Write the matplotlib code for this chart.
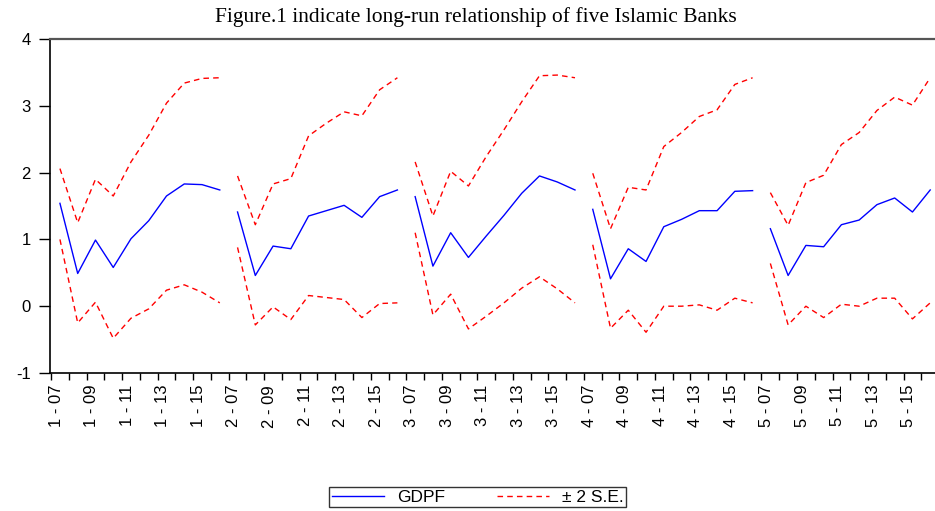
import matplotlib
matplotlib.use("Agg")
import matplotlib.pyplot as plt

banks = [1, 2, 3, 4, 5]
years = [7, 8, 9, 10, 11, 12, 13, 14, 15, 16]

# GDPF forecast per bank
gdpf = [
    [1.54, 0.49, 0.99, 0.58, 1.01, 1.28, 1.65, 1.83, 1.82, 1.74],
    [1.41, 0.46, 0.90, 0.86, 1.35, 1.43, 1.51, 1.33, 1.64, 1.74],
    [1.64, 0.60, 1.10, 0.73, 1.05, 1.36, 1.69, 1.95, 1.86, 1.74],
    [1.45, 0.41, 0.86, 0.67, 1.19, 1.30, 1.43, 1.43, 1.72, 1.73],
    [1.16, 0.46, 0.91, 0.89, 1.22, 1.29, 1.52, 1.62, 1.41, 1.74],
]
# +2 S.E. band
upper = [
    [2.06, 1.25, 1.90, 1.65, 2.16, 2.56, 3.04, 3.34, 3.41, 3.42],
    [1.95, 1.22, 1.83, 1.91, 2.55, 2.74, 2.91, 2.85, 3.24, 3.42],
    [2.16, 1.35, 2.02, 1.80, 2.24, 2.64, 3.06, 3.45, 3.46, 3.42],
    [1.99, 1.16, 1.78, 1.74, 2.39, 2.60, 2.84, 2.94, 3.32, 3.42],
    [1.70, 1.21, 1.85, 1.96, 2.42, 2.60, 2.93, 3.13, 3.01, 3.42],
]
# -2 S.E. band
lower = [
    [1.00, -0.25, 0.06, -0.48, -0.18, -0.04, 0.24, 0.32, 0.21, 0.05],
    [0.88, -0.28, -0.01, -0.20, 0.16, 0.13, 0.10, -0.17, 0.04, 0.05],
    [1.10, -0.13, 0.18, -0.34, -0.15, 0.05, 0.27, 0.44, 0.26, 0.05],
    [0.92, -0.33, -0.06, -0.39, 0.00, 0.00, 0.02, -0.06, 0.12, 0.05],
    [0.64, -0.28, 0.00, -0.17, 0.03, 0.00, 0.12, 0.12, -0.19, 0.05],
]

labels = [f"{b} - {y:02d}" for b in banks for y in years]
n = len(labels)

fig = plt.figure(figsize=(9.35, 5.11), dpi=100)
ax = fig.add_axes([50 / 935, 1 - 373 / 511, 1 - 50 / 935, (373 - 39) / 511])

blue = "#0000ff"
red = "#ff0000"
for i in range(len(banks)):
    x = list(range(i * len(years), (i + 1) * len(years)))
    ax.plot(x, gdpf[i], color=blue, lw=1.0, label="GDPF" if i == 0 else None)
    ax.plot(x, upper[i], color=red, lw=1.0, ls=(0, (4, 3)),
            label="± 2 S.E." if i == 0 else None)
    ax.plot(x, lower[i], color=red, lw=1.0, ls=(0, (4, 3)))

ax.set_xlim(-0.56, 49.27)
ax.set_ylim(-1, 4)
ax.set_yticks([-1, 0, 1, 2, 3, 4])
ax.set_yticklabels(["-1", "0", "1", "2", "3", "4"], family="Liberation Sans", fontsize=12)
ax.tick_params(axis="y", direction="out", length=8, width=1, pad=6)

# labels sit a bit left of the observation, as in EViews
ax.set_xticks([k - 0.2 for k in range(0, n, 2)])
ax.set_xticklabels(labels[::2], rotation=90, family="Liberation Sans", fontsize=12)
ax.set_xticks([k - 0.5 for k in range(n)], minor=True)
ax.tick_params(axis="x", which="major", length=0, pad=8.5)
ax.tick_params(axis="x", which="minor", direction="out", length=5, width=1)

ax.spines["right"].set_visible(False)
ax.spines["top"].set_color("#555555")
ax.spines["top"].set_linewidth(1.6)
ax.spines["left"].set_linewidth(1.2)
ax.spines["bottom"].set_linewidth(1.2)

fig.text(476 / 935, 1 - 22 / 511,
         "Figure.1 indicate long-run relationship of five Islamic Banks",
         ha="center", va="baseline", family="Liberation Serif", fontsize=15.5)

leg = fig.legend(loc="upper left", bbox_to_anchor=(329 / 935, 1 - 487 / 511),
                 ncol=2, frameon=True, fancybox=False, handlelength=3.0,
                 handletextpad=0.75, columnspacing=3.0, borderpad=0.15,
                 borderaxespad=0,
                 prop={"family": "Liberation Sans", "size": 12.5})
leg.get_frame().set_edgecolor("black")
leg.get_frame().set_linewidth(1.0)

fig.savefig("out.png", dpi=100)
